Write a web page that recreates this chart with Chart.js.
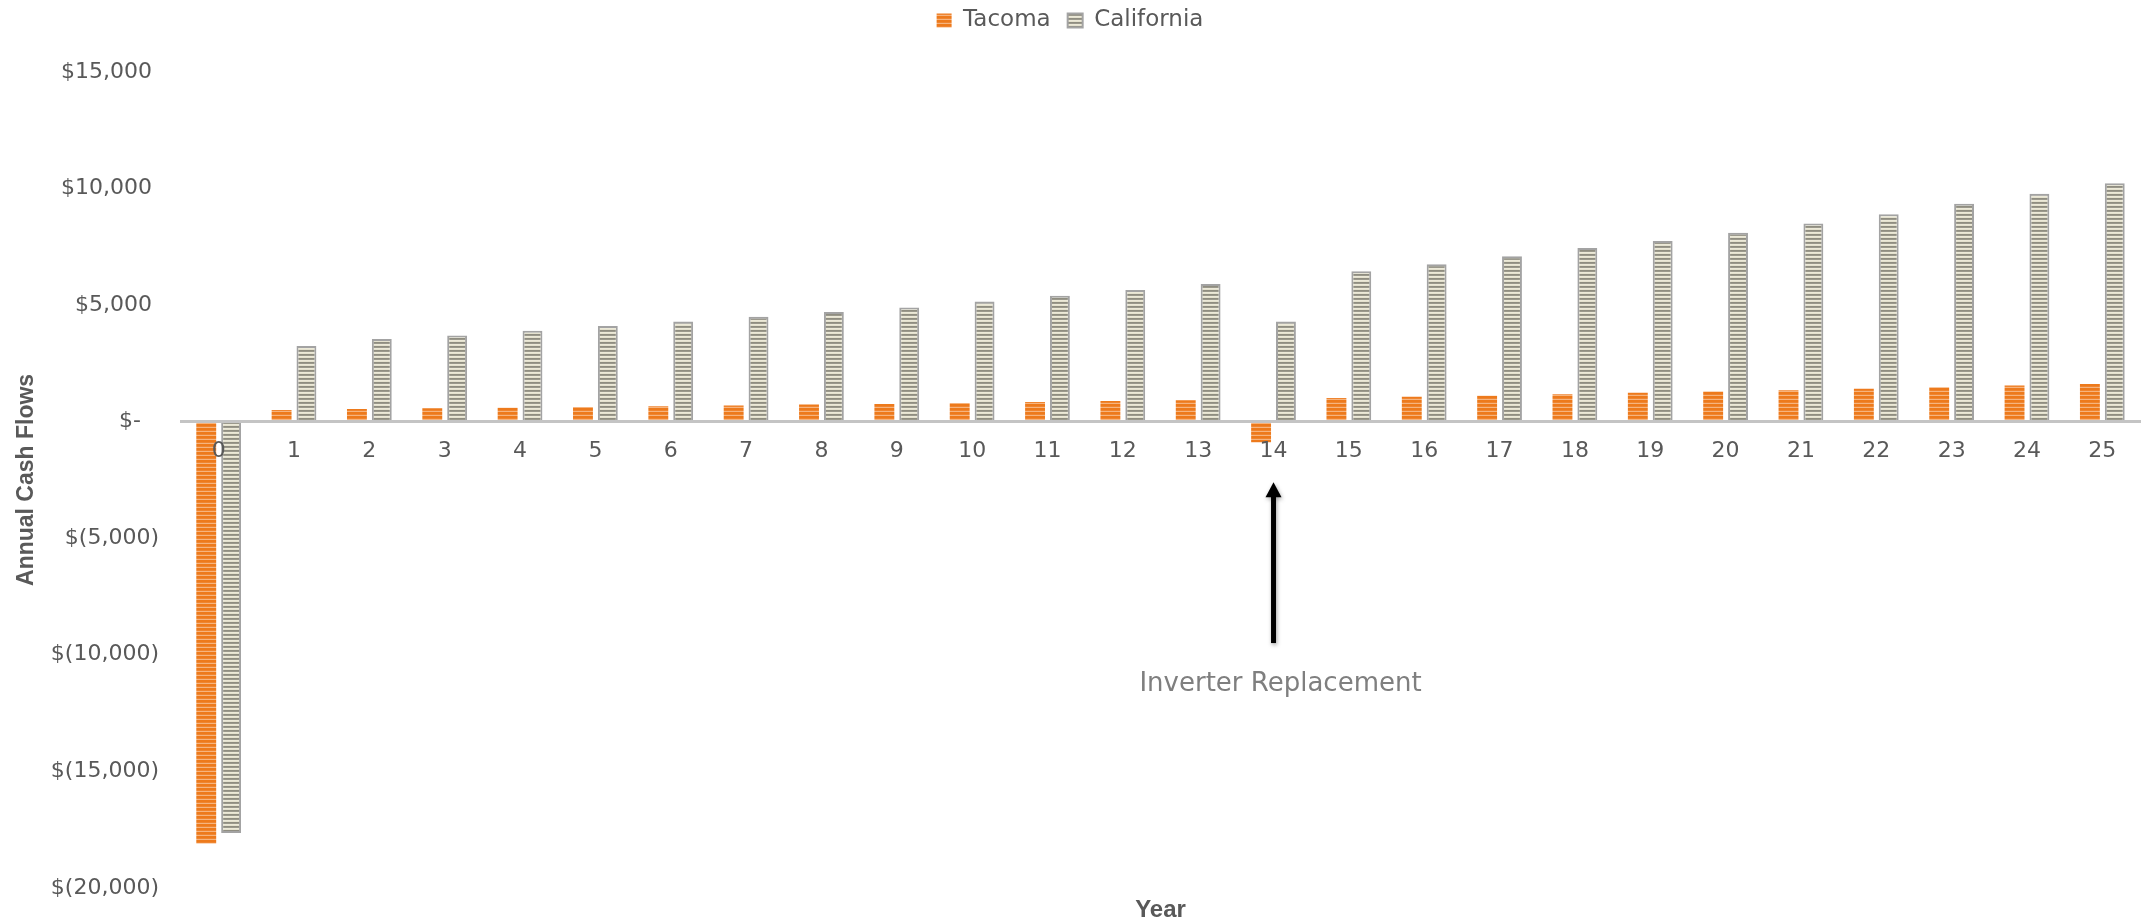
<!DOCTYPE html>
<html>
<head>
<meta charset="utf-8">
<title>Annual Cash Flows</title>
<script src="https://cdn.jsdelivr.net/npm/chart.js@4/dist/chart.umd.min.js"></script>
<style>
  html, body { margin: 0; padding: 0; background: #ffffff; }
  #wrap { width: 2151px; height: 923px; position: relative; }
</style>
</head>
<body>
<div id="wrap"><canvas id="chart"></canvas></div>
<script>
// Years of operation
const years = ['0','1','2','3','4','5','6','7','8','9','10','11','12','13','14','15','16','17','18','19','20','21','22','23','24','25'];

// Annual cash flows per location (USD)
const tacoma = [-18100, 500, 540, 570, 600, 630, 660, 690, 730, 760, 800, 840, 880, 920, -890, 1010, 1070, 1115, 1170, 1240, 1290, 1350, 1410, 1470, 1545, 1615];
const california = [-17650, 3250, 3550, 3700, 3900, 4100, 4300, 4500, 4700, 4900, 5150, 5400, 5650, 5900, 4300, 6450, 6750, 7100, 7450, 7750, 8100, 8500, 8900, 9350, 9780, 10230];

// Value axis range and tick step
const yMin = -20000;
const yMax = 15000;
const yStep = 5000;

// Inverter replacement note, in axis units
const noteYear = 14;
const noteText = 'Inverter Replacement';
const arrowTipValue = -2600;
const arrowTailValue = -9500;
const noteValue = -11250;

const TEXT = '#595959';
const tickFont = { family: 'DejaVu Sans', size: 22 };
const legendFont = { family: 'DejaVu Sans', size: 23 };
const titleFont = { family: 'Liberation Sans', size: 23, weight: 'bold' };

// Striped fills built as repeating canvas patterns
function stripePattern(rows) {
  const c = document.createElement('canvas');
  c.width = 4;
  c.height = rows.length;
  const g = c.getContext('2d');
  rows.forEach((col, i) => { g.fillStyle = col; g.fillRect(0, i, 4, 1); });
  return g.createPattern(c, 'repeat');
}
const tacomaFill = stripePattern(['#ED7A1C', '#ED7A1C', '#EF8530', '#F6B47E']);
const californiaFill = stripePattern(['#ECE9D8', '#E4E1CE', '#8F8D80', '#9B998C']);

function money(v) {
  if (v === 0) return '$-\u2002 ';
  const s = Math.abs(v).toLocaleString('en-US');
  return v < 0 ? '$(' + s + ')' : '$' + s + ' ';
}

// Keeps the legend band a fixed height above the plot and lifts its row
const legendBand = {
  id: 'legendBand',
  beforeLayout(chart) {
    const lg = chart.legend;
    if (lg && !lg._bandWrapped) {
      const fit = lg.fit;
      lg.fit = function () { fit.call(this); this.height = 72; };
      lg._bandWrapped = true;
    }
  },
  afterLayout(chart) {
    if (chart.legend) {
      chart.legend.top -= 8;
      chart.legend.bottom -= 8;
    }
  }
};

// Arrow and caption for the inverter replacement year, plus the x axis title
const notes = {
  id: 'notes',
  afterDraw(chart) {
    const { ctx, scales: { x, y }, chartArea } = chart;
    const ax = x.getPixelForValue(noteYear);
    const tipY = y.getPixelForValue(arrowTipValue);
    const tailY = y.getPixelForValue(arrowTailValue);
    const headH = 15, headW = 16;
    ctx.save();
    ctx.shadowColor = 'rgba(0,0,0,0.35)';
    ctx.shadowBlur = 4;
    ctx.shadowOffsetX = 1;
    ctx.shadowOffsetY = 2;
    ctx.fillStyle = '#000000';
    ctx.fillRect(ax - 2.5, tipY + headH - 1, 5, tailY - tipY - headH + 1);
    ctx.beginPath();
    ctx.moveTo(ax, tipY);
    ctx.lineTo(ax + headW / 2, tipY + headH);
    ctx.lineTo(ax - headW / 2, tipY + headH);
    ctx.closePath();
    ctx.fill();
    ctx.restore();

    ctx.save();
    ctx.fillStyle = '#7F7F7F';
    ctx.font = '26px "DejaVu Sans"';
    ctx.textAlign = 'center';
    ctx.textBaseline = 'middle';
    ctx.fillText(noteText, ax + 7, y.getPixelForValue(noteValue));

    ctx.fillStyle = TEXT;
    ctx.font = 'bold 24px "Liberation Sans"';
    ctx.textBaseline = 'alphabetic';
    ctx.fillText('Year', (chartArea.left + chartArea.right) / 2, 917);
    ctx.restore();
  }
};

new Chart(document.getElementById('chart'), {
  type: 'bar',
  data: {
    labels: years,
    datasets: [
      {
        label: 'Tacoma',
        data: tacoma,
        backgroundColor: tacomaFill,
        borderWidth: 0,
        barPercentage: 0.8,
        categoryPercentage: 0.66
      },
      {
        label: 'California',
        data: california,
        backgroundColor: californiaFill,
        borderColor: '#A3A3A3',
        borderWidth: 2,
        barPercentage: 0.8,
        categoryPercentage: 0.66
      }
    ]
  },
  options: {
    responsive: true,
    maintainAspectRatio: false,
    animation: false,
    layout: { padding: { top: 0, right: 11, bottom: 35, left: 0 } },
    plugins: {
      legend: {
        position: 'top',
        labels: {
          font: legendFont,
          color: TEXT,
          boxWidth: 15,
          boxHeight: 14,
          padding: 17
        }
      },
      tooltip: { enabled: false },
      title: { display: false }
    },
    scales: {
      x: {
        position: { y: 0 },
        grid: { display: false, drawTicks: false },
        border: { display: true, color: '#C4C4C4', width: 3, z: 1 },
        ticks: { font: tickFont, color: TEXT, padding: 16, z: 1, maxRotation: 0, autoSkip: false }
      },
      y: {
        min: yMin,
        max: yMax,
        afterFit(scale) { scale.width = 181; },
        grid: { display: false, drawTicks: false },
        border: { display: false },
        ticks: { stepSize: yStep, font: tickFont, color: TEXT, padding: 22, callback: (v) => money(v) },
        title: { display: true, text: 'Annual Cash Flows', font: titleFont, color: TEXT, padding: { top: 13, bottom: 0 } }
      }
    }
  },
  plugins: [legendBand, notes]
});
</script>
</body>
</html>
